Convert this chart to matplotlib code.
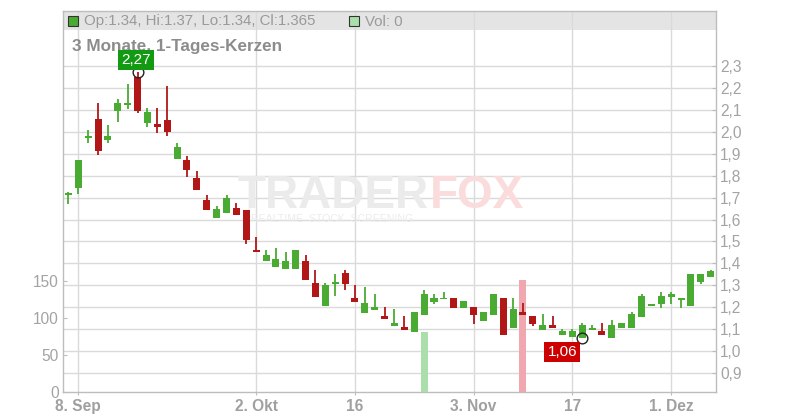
import numpy as np
import matplotlib
matplotlib.use("Agg")
import matplotlib.pyplot as plt
from matplotlib.patches import Rectangle

plt.rcParams['font.family'] = ['Liberation Sans', 'DejaVu Sans']

# ---------------- data ----------------
dates = ["09-05",
         "09-08", "09-09", "09-10", "09-11", "09-12",
         "09-15", "09-16", "09-17", "09-18", "09-19",
         "09-22", "09-23", "09-24", "09-25", "09-26",
         "09-29", "09-30", "10-01", "10-02", "10-03",
         "10-06", "10-07", "10-08", "10-09", "10-10",
         "10-13", "10-14", "10-15", "10-16", "10-17",
         "10-20", "10-21", "10-22", "10-23", "10-24",
         "10-27", "10-28", "10-29", "10-30", "10-31",
         "11-03", "11-04", "11-05", "11-06", "11-07",
         "11-10", "11-11", "11-12", "11-13", "11-14",
         "11-17", "11-18", "11-19", "11-20", "11-21",
         "11-24", "11-25", "11-26", "11-27", "11-28",
         "12-01", "12-02", "12-03", "12-04", "12-05"]

opens = [1.712,
         1.745, 1.972, 2.058, 1.964, 2.096,
         2.119, 2.250, 2.037, 2.035, 2.054,
         1.877, 1.871, 1.789, 1.689, 1.608,
         1.628, 1.651, 1.642, 1.463, 1.409,
         1.386, 1.377, 1.377, 1.412, 1.311,
         1.207, 1.308, 1.357, 1.242, 1.175,
         1.189, 1.159, 1.117, 1.111, 1.089,
         1.167, 1.226, 1.239, 1.242, 1.198,
         1.202, 1.139, 1.167, 1.242, 1.108,
         1.179, 1.161, 1.098, 1.120, 1.076,
         1.067, 1.060, 1.099, 1.092, 1.062,
         1.106, 1.106, 1.158, 1.209, 1.215,
         1.247, 1.238, 1.206, 1.315, 1.34]
highs = [1.727,
         1.871, 2.008, 2.131, 2.031, 2.149,
         2.218, 2.270, 2.107, 2.108, 2.209,
         1.949, 1.889, 1.821, 1.711, 1.663,
         1.713, 1.674, 1.642, 1.522, 1.463,
         1.472, 1.453, 1.463, 1.440, 1.371,
         1.311, 1.352, 1.368, 1.300, 1.293,
         1.260, 1.201, 1.192, 1.161, 1.179,
         1.279, 1.261, 1.270, 1.242, 1.229,
         1.202, 1.179, 1.261, 1.242, 1.242,
         1.220, 1.161, 1.170, 1.161, 1.102,
         1.102, 1.129, 1.120, 1.129, 1.142,
         1.129, 1.179, 1.261, 1.211, 1.270,
         1.270, 1.241, 1.352, 1.352, 1.37]
lows = [1.670,
        1.717, 1.946, 1.895, 1.946, 2.046,
        2.105, 2.087, 2.019, 1.996, 1.981,
        1.877, 1.795, 1.736, 1.644, 1.608,
        1.628, 1.620, 1.487, 1.450, 1.409,
        1.386, 1.377, 1.377, 1.326, 1.248,
        1.207, 1.253, 1.280, 1.225, 1.175,
        1.189, 1.147, 1.117, 1.098, 1.089,
        1.167, 1.217, 1.239, 1.198, 1.198,
        1.126, 1.139, 1.167, 1.076, 1.108,
        1.167, 1.117, 1.098, 1.108, 1.076,
        1.067, 1.060, 1.099, 1.076, 1.062,
        1.106, 1.106, 1.158, 1.209, 1.197,
        1.215, 1.197, 1.206, 1.306, 1.34]
closes = [1.718,
          1.871, 1.978, 1.914, 1.981, 2.131,
          2.131, 2.096, 2.090, 2.019, 2.000,
          1.929, 1.827, 1.736, 1.644, 1.648,
          1.699, 1.620, 1.509, 1.450, 1.440,
          1.421, 1.412, 1.463, 1.326, 1.248,
          1.300, 1.316, 1.308, 1.225, 1.219,
          1.201, 1.147, 1.129, 1.098, 1.179,
          1.261, 1.242, 1.242, 1.198, 1.229,
          1.167, 1.179, 1.261, 1.076, 1.192,
          1.167, 1.126, 1.120, 1.108, 1.092,
          1.092, 1.120, 1.102, 1.076, 1.120,
          1.129, 1.170, 1.252, 1.211, 1.252,
          1.261, 1.241, 1.352, 1.352, 1.365]
volumes = [0,
           0, 0, 0, 0, 0,
           0, 0, 0, 0, 0,
           0, 0, 0, 0, 0,
           0, 0, 0, 0, 0,
           0, 0, 0, 0, 0,
           0, 0, 0, 0, 0,
           0, 0, 0, 0, 0,
           81, 0, 0, 0, 0,
           0, 0, 0, 0, 0,
           151, 0, 0, 0, 0,
           0, 0, 0, 0, 0,
           0, 0, 0, 0, 0,
           0, 0, 0, 0, 0]

tick_dates = ["09-08", "10-02", "10-16", "11-03", "11-17", "12-01"]
tick_labels = ["8. Sep", "2. Okt", "16", "3. Nov", "17", "1. Dez"]
price_ticks = [0.9, 1.0, 1.1, 1.2, 1.3, 1.4, 1.5, 1.6, 1.7, 1.8, 1.9, 2.0, 2.1, 2.2, 2.3]
vol_ticks = [0, 50, 100, 150]
title = "3 Monate, 1-Tages-Kerzen"

# ---------------- styles ----------------
GREEN = '#4aab33'
RED = '#b11717'
VGREEN = '#aadeaa'
VRED = '#f0a7b0'
GRID = '#dadada'
SPINE = '#bdbdbd'
TXT = '#a3a3a3'

W, H = 800, 420
L, R, B, T = 63, 716, 392, 11

def fx(px):
    return px / W

def fy(py):
    return 1 - py / H

fig = plt.figure(figsize=(8, 4.2), dpi=100)
pos = [L / W, 1 - B / H, (R - L) / W, (B - T) / H]
axg = fig.add_axes(pos)
axv = fig.add_axes(pos, sharex=axg)
axp = fig.add_axes(pos, sharex=axg)
for a in (axv, axp):
    a.patch.set_visible(False)
    for s in a.spines.values():
        s.set_visible(False)

x = np.arange(len(dates))
o = np.array(opens); h = np.array(highs); lo = np.array(lows); c = np.array(closes)
up = c >= o

axg.set_xlim(-0.549, 65.54)
axg.set_ylim(0.815, 2.549)
axp.set_ylim(0.815, 2.549)
axv.set_ylim(0, 515)

# grid axes
tick_pos = [dates.index(d) for d in tick_dates]
axg.set_axisbelow(True)
axg.set_yticks(price_ticks)
axg.set_xticks(tick_pos)
axg.set_xticklabels(tick_labels, fontweight='bold')
axg.grid(True, color=GRID, lw=1.0)
axg.tick_params(axis='y', left=False, labelleft=False)
axg.tick_params(axis='x', direction='out', length=2.5, color=SPINE,
                labelsize=11.2, labelcolor='#a0a0a0', pad=2.5)
for s in axg.spines.values():
    s.set_color(SPINE)
    s.set_linewidth(1.0)

# header band
band_bottom = (B - 30) / (B - T)
axg.add_patch(Rectangle((0, band_bottom), 1, 1 - band_bottom, transform=axg.transAxes,
                        facecolor='#e4e4e4', edgecolor='none', zorder=0.2))

# watermark
wm = axg.text(fx(238), fy(208), "TRADER", transform=fig.transFigure, fontsize=33,
              fontweight='bold', color='#ebebeb', ha='left', va='baseline', zorder=0.6)
axg.text(fx(430), fy(208), "FOX", transform=fig.transFigure, fontsize=33,
         fontweight='bold', color='#fbdcdc', ha='left', va='baseline', zorder=0.6)
axg.text(fx(251), fy(222), "REALTIME  STOCK  SCREENING", transform=fig.transFigure,
         fontsize=7.6, color='#ececec', ha='left', va='baseline', zorder=0.6)

# header texts
axg.add_patch(Rectangle((fx(68), fy(26)), 10 / W, 10 / H, transform=fig.transFigure,
                        facecolor=GREEN, edgecolor='#333333', lw=0.8, clip_on=False, zorder=3))
hdr = "Op:{:g}, Hi:{:g}, Lo:{:g}, Cl:{:g}".format(opens[-1], highs[-1], lows[-1], closes[-1])
axg.text(fx(84), fy(21.5), hdr, transform=fig.transFigure, fontsize=10.8,
         color='#9a9a9a', ha='left', va='center', zorder=3)
axg.add_patch(Rectangle((fx(349), fy(26)), 10 / W, 10 / H, transform=fig.transFigure,
                        facecolor=VGREEN, edgecolor='#333333', lw=0.8, clip_on=False, zorder=3))
axg.text(fx(365), fy(21.5), "Vol: {:g}".format(volumes[-1]), transform=fig.transFigure,
         fontsize=10.8, color='#9a9a9a', ha='left', va='center', zorder=3)
axg.text(fx(72), fy(47), title, transform=fig.transFigure, fontsize=12.3,
         fontweight='bold', color='#8c8c8c', ha='left', va='center', zorder=3)

# volume
vcols = [VGREEN if u else VRED for u in up]
axv.bar(x, volumes, width=0.71, color=vcols, linewidth=0, zorder=2)
axv.set_yticks(vol_ticks)
axv.tick_params(axis='y', direction='in', length=3, color=SPINE, labelsize=11.2,
                labelcolor=TXT, pad=3)
axv.tick_params(axis='x', bottom=False, labelbottom=False)

# candles
cols = [GREEN if u else RED for u in up]
axp.vlines(x, lo, h, colors=cols, lw=1.3, zorder=2)
diff = np.abs(c - o)
minh = 0.008
bot = np.where(diff < minh, (o + c) / 2 - minh / 2, np.minimum(o, c))
hei = np.maximum(diff, minh)
axp.bar(x, hei, bottom=bot, width=0.71, color=cols, linewidth=0, zorder=3)
axp.yaxis.tick_right()
axp.set_yticks(price_ticks)
axp.set_yticklabels([("%.1f" % t).replace('.', ',') for t in price_ticks])
axp.tick_params(axis='y', direction='in', length=3, color=SPINE, labelsize=11.2,
                labelcolor=TXT, pad=3)
axp.tick_params(axis='x', bottom=False, labelbottom=False)

# high / low markers
ih = int(np.argmax(h)); il = int(np.argmin(lo))
axp.plot([x[ih]], [h[ih]], 'o', mfc='none', mec='#222222', ms=7.7, mew=1.0, zorder=5)
axp.plot([x[il]], [lo[il]], 'o', mfc='none', mec='#222222', ms=7.7, mew=1.0, zorder=5)
axp.annotate(("%.2f" % h[ih]).replace('.', ','), (x[ih], h[ih]), xytext=(-1.3, 8.6),
             textcoords='offset points', ha='center', va='center', color='white',
             fontsize=11, annotation_clip=False, zorder=6,
             bbox=dict(boxstyle='square,pad=0.2', fc='#139a13', ec='none'))
axp.annotate(("%.2f" % lo[il]).replace('.', ','), (x[il], lo[il]), xytext=(-14.3, -10),
             textcoords='offset points', ha='center', va='center', color='white',
             fontsize=11, annotation_clip=False, zorder=6,
             bbox=dict(boxstyle='square,pad=0.2', fc='#cc0000', ec='none'))

fig.savefig("out.png", dpi=100)
